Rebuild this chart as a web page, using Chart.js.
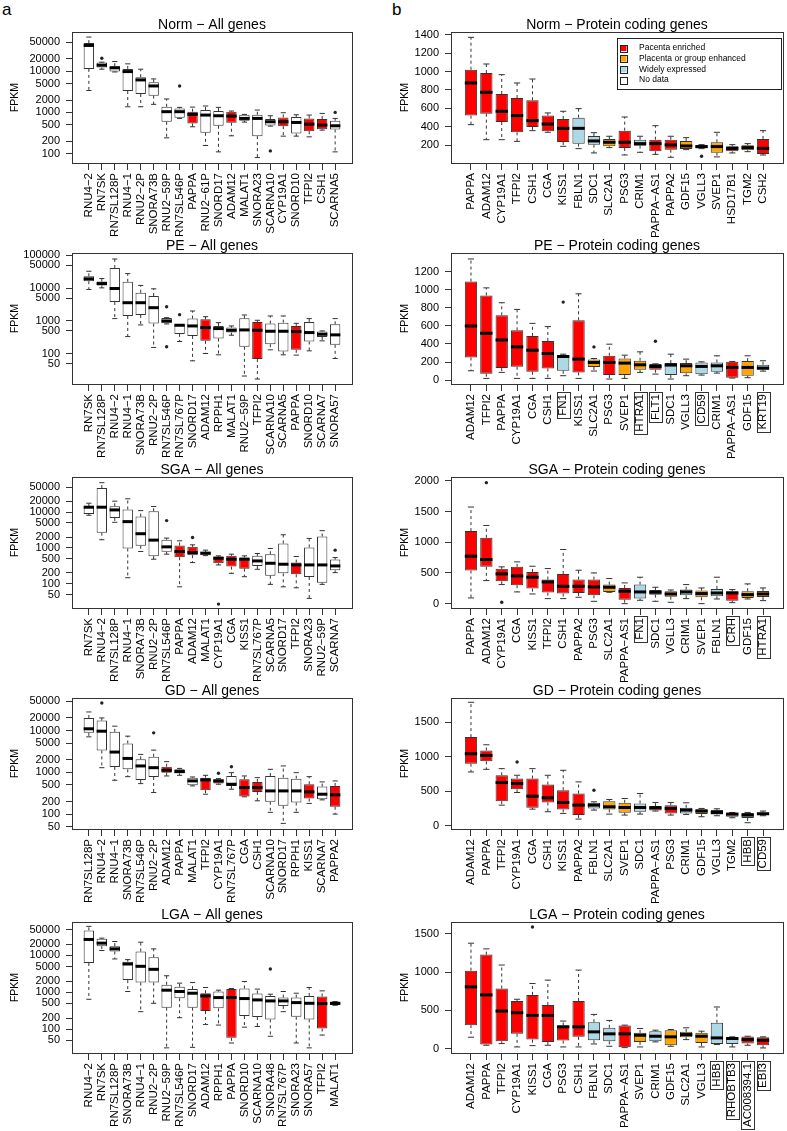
<!DOCTYPE html>
<html>
<head>
<meta charset="utf-8">
<script src="https://cdn.jsdelivr.net/npm/chart.js@4.4.0/dist/chart.umd.min.js"></script>
<style>
  body { margin: 0; background: #fff; }
  #fig { position: relative; width: 787px; height: 1131px; overflow: hidden; background: #fff; }
  #fig canvas { position: absolute; }
  .lab { position: absolute; font-family: 'Liberation Sans', Arial, sans-serif; font-size: 17px; line-height: 17px; }
</style>
</head>
<body>
<div id="fig">
  <div class="lab" style="left:2px;top:1px">a</div>
  <div class="lab" style="left:392px;top:1px">b</div>
</div>
<script>
// box stats are [lower whisker, Q1, median, Q3, upper whisker]
// classes: PE placenta enriched, GE group enhanced, WE widely expressed, ND no data

const legendLabels = ['Pacenta enriched', 'Placenta or group enhanced', 'Widely expressed', 'No data'];
const legendClasses = ['PE', 'GE', 'WE', 'ND'];

const logTicks = [50, 100, 200, 500, 1000, 2000, 5000, 10000, 20000, 50000];

// Norm
const normAllGenes = ['RNU4-2','RN7SK','RN7SL128P','RNU4-1','RNU2-2P','SNORA73B','RNU2-59P','RN7SL546P','PAPPA','RNU2-61P','SNORD17','ADAM12','MALAT1','SNORA23','SCARNA10','CYP19A1','SNORD10','TFPI2','CSH1','SCARNA5'];
const normAllClass = ['ND','ND','ND','ND','ND','ND','ND','ND','PE','ND','ND','PE','ND','ND','ND','PE','ND','PE','PE','ND'];
const normAllStats = [
  [3400, 11400, 42300, 48200, 67500], [11200, 12300, 14000, 16300, 16600], [9600, 9800, 12100, 13200, 17200],
  [1370, 3300, 9800, 11400, 15100], [1370, 2800, 6150, 7140, 11200], [1570, 2550, 4390, 5390, 6500],
  [241, 592, 1040, 1370, 2120], [714, 741, 1040, 1250, 1325], [447, 539, 894, 1040, 1345],
  [157, 319, 861, 1140, 1430], [110, 473, 829, 1080, 1325], [270, 560, 814, 1040, 1080],
  [581, 626, 714, 877, 894], [80, 265, 714, 877, 1140], [464, 482, 592, 688, 829],
  [265, 464, 592, 755, 981], [265, 307, 570, 769, 877], [255, 350, 519, 714, 861],
  [371, 392, 491, 688, 945], [110, 385, 473, 626, 714]
];
const normAllOutliers = [['RN7SK', 20700], ['RN7SL546P', 4390], ['SCARNA10', 116], ['SCARNA5', 1000]];
const normAllTicks = [100, 200, 500, 1000, 2000, 5000, 10000, 20000, 50000];

const normProtGenes = ['PAPPA','ADAM12','CYP19A1','TFPI2','CSH1','CGA','KISS1','FBLN1','SDC1','SLC2A1','PSG3','CRIM1','PAPPA-AS1','PAPPA2','GDF15','VGLL3','SVEP1','HSD17B1','TGM2','CSH2'];
const normProtClass = ['PE','PE','PE','PE','PE','PE','PE','WE','WE','GE','PE','WE','PE','PE','GE','GE','GE','PE','GE','PE'];
const normProtStats = [
  [424, 522, 876, 1020, 1371], [261, 543, 775, 984, 1082], [261, 453, 569, 757, 966],
  [243, 341, 522, 713, 876], [359, 399, 467, 688, 919], [341, 352, 431, 522, 551],
  [189, 236, 384, 486, 569], [164, 218, 384, 500, 598], [117, 207, 247, 301, 337],
  [175, 189, 233, 269, 298], [95, 171, 233, 359, 507], [124, 196, 218, 261, 298],
  [102, 135, 218, 261, 413], [70, 153, 204, 261, 298], [153, 160, 193, 247, 283],
  [164, 167, 186, 200, 207], [74, 120, 186, 233, 341], [117, 135, 167, 189, 207],
  [131, 146, 175, 200, 218], [95, 106, 167, 269, 359]
];
const normProtOutliers = [['VGLL3', 81]];
const normProtTicks = [200, 400, 600, 800, 1000, 1200, 1400];

// PE
const peAllGenes = ['RN7SK','RN7SL128P','RNU4-2','RNU4-1','SNORA73B','RNU2-2P','RN7SL546P','RN7SL767P','SNORD17','ADAM12','RPPH1','MALAT1','RNU2-59P','TFPI2','SCARNA10','SCARNA5','PAPPA','SNORD10','SCARNA7','SNORA57'];
const peAllClass = ['ND','ND','ND','ND','ND','ND','ND','ND','ND','PE','ND','ND','ND','PE','ND','ND','PE','ND','ND','ND'];
const peAllStats = [
  [9120, 16300, 19200, 23100, 32700], [10200, 12000, 13800, 15900, 19600], [1180, 3770, 9770, 41300, 77400],
  [335, 1420, 3600, 15600, 27800], [756, 1520, 3600, 7230, 12100], [156, 830, 2540, 5730, 9550],
  [811, 849, 1000, 1230, 1260], [237, 404, 740, 774, 780], [61, 351, 705, 1180, 2010],
  [102, 248, 628, 1120, 1350], [93, 292, 586, 705, 889], [368, 443, 521, 628, 705],
  [21, 163, 533, 1205, 1520], [17, 69, 521, 933, 1050], [132, 196, 486, 830, 1420],
  [93, 118, 486, 889, 1420], [91, 132, 475, 705, 849], [123, 237, 443, 933, 1180],
  [248, 327, 394, 475, 498], [72, 187, 377, 793, 1180]
];
const peAllOutliers = [['RN7SL546P', 2720], ['RN7SL546P', 163], ['RN7SL767P', 1556]];
const peAllTicks = [50, 100, 500, 1000, 5000, 10000, 50000, 100000];

const peProtGenes = ['ADAM12','TFPI2','PAPPA','CYP19A1','CGA','CSH1','FN1','KISS1','SLC2A1','PSG3','SVEP1','HTRA1','FLT1','SDC1','VGLL3','CD59','CRIM1','PAPPA-AS1','GDF15','KRT19'];
const peProtClass = ['PE','PE','PE','PE','PE','PE','WE','PE','GE','PE','GE','GE','PE','WE','GE','WE','WE','PE','GE','WE'];
const peProtBoxed = ['FN1', 'HTRA1', 'FLT1', 'CD59', 'KRT19'];
const peProtStats = [
  [103, 250, 600, 1093, 1344], [18, 70, 519, 939, 1023], [85, 133, 445, 718, 858],
  [18, 147, 368, 552, 784], [18, 92, 331, 490, 629], [18, 129, 294, 434, 593],
  [48, 103, 261, 276, 287], [18, 85, 232, 663, 957], [100, 145, 195, 228, 239],
  [11, 55, 195, 269, 398], [18, 55, 188, 239, 276], [85, 114, 169, 214, 313],
  [66, 114, 151, 177, 180], [11, 55, 166, 188, 287], [48, 74, 158, 188, 232],
  [55, 63, 151, 195, 202], [77, 92, 158, 195, 269], [22, 26, 140, 202, 206],
  [26, 48, 140, 210, 269], [99, 114, 133, 169, 214]
];
const peProtOutliers = [['FN1', 865], ['SLC2A1', 368], ['FLT1', 431]];
const peProtTicks = [0, 200, 400, 600, 800, 1000, 1200];

// SGA
const sgaAllGenes = ['RN7SK','RNU4-2','RN7SL128P','RNU4-1','SNORA73B','RNU2-2P','RN7SL546P','PAPPA','ADAM12','MALAT1','CYP19A1','CGA','KISS1','RN7SL767P','SCARNA5','SNORD17','TFPI2','SNORA23','RNU2-59P','SCARNA7'];
const sgaAllClass = ['ND','ND','ND','ND','ND','ND','ND','PE','PE','ND','PE','PE','PE','ND','ND','ND','PE','ND','ND','ND'];
const sgaAllStats = [
  [8160, 8890, 13700, 14300, 17700], [1690, 2660, 13700, 46900, 66200], [5190, 6870, 11500, 14600, 20200],
  [147, 964, 5420, 11800, 23500], [794, 1150, 2490, 7480, 11000], [483, 587, 1650, 10600, 14300],
  [668, 776, 1070, 1690, 1880], [82, 550, 794, 1170, 1580], [389, 627, 745, 1070, 1220],
  [610, 627, 713, 776, 865], [335, 373, 515, 575, 600], [195, 301, 483, 600, 668],
  [157, 264, 483, 538, 600], [253, 314, 433, 600, 697], [96, 168, 373, 668, 964],
  [82, 195, 350, 1330, 2330], [77, 183, 335, 389, 575], [39, 154, 335, 1030, 1840],
  [96, 107, 335, 2090, 3030], [204, 237, 314, 473, 538]
];
const sgaAllOutliers = [['RN7SL546P', 5780], ['ADAM12', 1960], ['CYP19A1', 27], ['SCARNA7', 865]];

const sgaProtGenes = ['PAPPA','ADAM12','CYP19A1','CGA','KISS1','TFPI2','CSH1','PAPPA2','PSG3','SLC2A1','PAPPA-AS1','FN1','SDC1','VGLL3','CRIM1','SVEP1','FBLN1','CRH','GDF15','HTRA1'];
const sgaProtClass = ['PE','PE','PE','PE','PE','PE','PE','PE','PE','GE','PE','WE','WE','GE','WE','GE','WE','PE','GE','GE'];
const sgaProtBoxed = ['FN1', 'CRH', 'HTRA1'];
const sgaProtStats = [
  [93, 540, 774, 1183, 1575], [376, 600, 719, 1074, 1275], [311, 365, 485, 567, 600],
  [191, 300, 452, 600, 681], [158, 245, 431, 518, 610], [82, 180, 354, 392, 572],
  [82, 164, 283, 485, 883], [104, 174, 283, 392, 545], [38, 136, 273, 392, 501],
  [185, 191, 267, 311, 409], [0, 65, 202, 256, 338], [55, 82, 191, 311, 431],
  [38, 147, 185, 223, 267], [22, 114, 158, 202, 223], [82, 136, 191, 229, 311],
  [0, 104, 164, 213, 256], [76, 120, 174, 240, 431], [16, 49, 174, 202, 229],
  [76, 93, 147, 202, 322], [49, 109, 158, 207, 256]
];
const sgaProtOutliers = [['ADAM12', 1973], ['CYP19A1', 22]];
const sgaProtTicks = [0, 500, 1000, 1500, 2000];

// GD
const gdAllGenes = ['RN7SL128P','RNU4-2','RNU4-1','SNORA73B','RN7SL546P','RNU2-2P','ADAM12','PAPPA','MALAT1','TFPI2','CYP19A1','RN7SL767P','CGA','CSH1','SCARNA10','SNORD17','RPPH1','KISS1','SCARNA7','PAPPA2'];
const gdAllClass = ['ND','ND','ND','ND','ND','ND','PE','PE','ND','PE','PE','ND','PE','PE','ND','ND','ND','PE','ND','PE'];
const gdAllStats = [
  [7060, 8790, 11000, 20000, 27800], [1290, 3340, 9640, 17300, 20000], [645, 1340, 3050, 9300, 12700],
  [788, 1180, 2150, 4900, 7330], [537, 657, 1420, 2040, 2680], [328, 774, 1290, 2360, 3400],
  [818, 981, 1120, 1360, 1800], [848, 946, 1040, 1180, 1240], [473, 490, 622, 746, 774],
  [299, 373, 657, 746, 848], [518, 537, 622, 681, 706], [394, 473, 518, 818, 981],
  [259, 264, 431, 681, 818], [208, 340, 431, 589, 746], [110, 197, 359, 818, 1180],
  [60, 158, 359, 746, 1420], [110, 190, 359, 706, 981], [180, 236, 340, 518, 788],
  [219, 228, 299, 456, 589], [100, 150, 289, 473, 622]
];
const gdAllOutliers = [['RNU4-2', 45600], ['RNU2-2P', 8790], ['CYP19A1', 946], ['RN7SL767P', 1360]];

const gdProtGenes = ['ADAM12','PAPPA','TFPI2','CYP19A1','CGA','CSH1','KISS1','PAPPA2','FBLN1','SLC2A1','SVEP1','SDC1','PAPPA-AS1','PSG3','CRIM1','GDF15','VGLL3','TGM2','HBB','CD59'];
const gdProtClass = ['PE','PE','PE','PE','PE','PE','PE','PE','WE','GE','GE','WE','PE','PE','WE','GE','GE','GE','WE','WE'];
const gdProtBoxed = ['HBB', 'CD59'];
const gdProtStats = [
  [779, 899, 1043, 1284, 1789], [817, 933, 1019, 1091, 1173], [298, 356, 625, 731, 827],
  [481, 529, 611, 683, 731], [240, 260, 428, 683, 827], [202, 337, 404, 596, 731],
  [178, 236, 337, 514, 803], [96, 154, 298, 466, 635], [226, 250, 298, 332, 346],
  [168, 236, 274, 356, 380], [154, 188, 264, 332, 394], [168, 202, 264, 322, 466],
  [212, 221, 260, 284, 337], [154, 178, 250, 298, 337], [163, 178, 226, 260, 332],
  [130, 168, 212, 240, 250], [144, 163, 192, 226, 245], [115, 130, 168, 188, 192],
  [43, 111, 154, 183, 192], [144, 154, 173, 188, 212]
];
const gdProtOutliers = [['CYP19A1', 923], ['FBLN1', 514]];
const gdProtTicks = [0, 500, 1000, 1500];

// LGA
const lgaAllGenes = ['RNU4-2','RN7SK','RN7SL128P','SNORA73B','RNU4-1','RNU2-2P','RNU2-59P','RN7SL546P','SNORD17','ADAM12','RPPH1','PAPPA','SNORD10','SCARNA10','SNORA48','RN7SL767P','SNORA23','SNORA57','TFPI2','MALAT1'];
const lgaAllClass = ['ND','ND','ND','ND','ND','ND','ND','ND','ND','PE','ND','PE','ND','ND','ND','ND','ND','ND','PE','ND'];
const lgaAllStats = [
  [647, 6250, 27200, 47900, 61500], [13600, 17900, 21600, 28300, 29500], [8040, 12800, 15100, 17900, 23900],
  [1050, 2140, 5860, 6790, 7710], [298, 1850, 5070, 12800, 22900], [503, 1850, 4200, 8930, 15100],
  [31, 383, 1140, 1600, 2810], [204, 690, 1050, 1410, 1770], [32, 383, 944, 1220, 1850],
  [134, 310, 798, 944, 1350], [129, 367, 719, 1050, 1140], [42, 58, 719, 1220, 1270],
  [113, 227, 676, 1270, 1970], [118, 213, 621, 925, 1220], [64, 184, 583, 798, 887],
  [298, 425, 583, 719, 1050], [42, 217, 525, 719, 944], [31, 184, 503, 798, 1350],
  [69, 104, 493, 766, 1094], [443, 453, 503, 547, 559]
];
const lgaAllOutliers = [['SNORA48', 4290]];

const lgaProtGenes = ['ADAM12','PAPPA','TFPI2','CYP19A1','KISS1','CGA','PSG3','CSH1','FBLN1','SDC1','PAPPA-AS1','SVEP1','CRIM1','GDF15','SLC2A1','VGLL3','HBB','RHOBTB3','AC008394.1','EBI3'];
const lgaProtClass = ['PE','PE','PE','PE','PE','PE','PE','PE','WE','WE','PE','GE','WE','GE','GE','GE','WE','WE','PE','PE'];
const lgaProtBoxed = ['HBB', 'RHOBTB3', 'AC008394.1', 'EBI3'];
const lgaProtStats = [
  [149, 307, 807, 1018, 1377], [44, 53, 702, 1228, 1303], [66, 96, 491, 785, 1092],
  [22, 193, 469, 623, 645], [39, 118, 434, 702, 851], [44, 88, 434, 570, 895],
  [22, 105, 285, 303, 360], [22, 154, 285, 623, 1026], [61, 110, 219, 346, 447],
  [31, 96, 193, 272, 368], [13, 18, 193, 303, 307], [22, 88, 175, 206, 263],
  [88, 96, 162, 228, 241], [31, 44, 154, 241, 250], [118, 149, 184, 219, 272],
  [22, 75, 162, 206, 228], [53, 61, 140, 338, 544], [22, 61, 132, 149, 154],
  [44, 66, 118, 158, 162], [9, 44, 110, 149, 154]
];
const lgaProtOutliers = [['KISS1', 1588]];
const lgaProtTicks = [0, 500, 1000, 1500];

const FILL = { PE: '#ff0000', GE: '#ffa500', WE: '#add8e6', ND: '#ffffff' };
const FONT = "'Liberation Sans', Arial, Helvetica, sans-serif";
const TICK_SIZE = 11.5;
Chart.defaults.font.family = FONT;
Chart.defaults.color = '#000';

const rowTops = [0, 221, 445, 666, 890];
const CANVAS_H = 241;

const panels = [
  { title: 'Norm \u2212 All genes', genes: normAllGenes, cls: normAllClass, stats: normAllStats, out: normAllOutliers, ticks: normAllTicks, log: true, range: [59, 89700], row: 0, col: 0 },
  { title: 'Norm \u2212 Protein coding genes', genes: normProtGenes, cls: normProtClass, stats: normProtStats, out: normProtOutliers, ticks: normProtTicks, log: false, range: [8, 1429], row: 0, col: 1, legend: true },
  { title: 'PE \u2212 All genes', genes: peAllGenes, cls: peAllClass, stats: peAllStats, out: peAllOutliers, ticks: peAllTicks, log: true, range: [12, 117800], row: 1, col: 0 },
  { title: 'PE \u2212 Protein coding genes', genes: peProtGenes, cls: peProtClass, stats: peProtStats, out: peProtOutliers, ticks: peProtTicks, log: false, range: [-44, 1410], row: 1, col: 1, boxed: peProtBoxed },
  { title: 'SGA \u2212 All genes', genes: sgaAllGenes, cls: sgaAllClass, stats: sgaAllStats, out: sgaAllOutliers, ticks: logTicks, log: true, range: [21, 95500], row: 2, col: 0 },
  { title: 'SGA \u2212 Protein coding genes', genes: sgaProtGenes, cls: sgaProtClass, stats: sgaProtStats, out: sgaProtOutliers, ticks: sgaProtTicks, log: false, range: [-71, 2065], row: 2, col: 1, boxed: sgaProtBoxed },
  { title: 'GD \u2212 All genes', genes: gdAllGenes, cls: gdAllClass, stats: gdAllStats, out: gdAllOutliers, ticks: logTicks, log: true, range: [44, 60000], row: 3, col: 0 },
  { title: 'GD \u2212 Protein coding genes', genes: gdProtGenes, cls: gdProtClass, stats: gdProtStats, out: gdProtOutliers, ticks: gdProtTicks, log: false, range: [-48, 1851], row: 3, col: 1, boxed: gdProtBoxed },
  { title: 'LGA \u2212 All genes', genes: lgaAllGenes, cls: lgaAllClass, stats: lgaAllStats, out: lgaAllOutliers, ticks: logTicks, log: true, range: [22.5, 80900], row: 4, col: 0 },
  { title: 'LGA \u2212 Protein coding genes', genes: lgaProtGenes, cls: lgaProtClass, stats: lgaProtStats, out: lgaProtOutliers, ticks: lgaProtTicks, log: false, range: [-57, 1654], row: 4, col: 1, boxed: lgaProtBoxed }
];

const dispName = g => g.replace(/-/g, '\u2212');

// whiskers, medians, frame, boxed labels and legend
const boxPlot = {
  id: 'boxPlot',
  afterDatasetsDraw(chart) {
    const ds = chart.data.datasets[0];
    const meta = chart.getDatasetMeta(0);
    const y = chart.scales.y;
    const ctx = chart.ctx;
    ctx.save();
    meta.data.forEach((bar, i) => {
      const [lo, q1, med, q3, hi] = ds.stats[i];
      const half = bar.width / 2;
      ctx.strokeStyle = '#333';
      ctx.lineWidth = 1;
      ctx.setLineDash([3, 3]);
      ctx.beginPath();
      ctx.moveTo(bar.x, y.getPixelForValue(q3));
      ctx.lineTo(bar.x, y.getPixelForValue(hi));
      ctx.moveTo(bar.x, y.getPixelForValue(q1));
      ctx.lineTo(bar.x, y.getPixelForValue(lo));
      ctx.stroke();
      ctx.setLineDash([]);
      ctx.beginPath();
      [lo, hi].forEach(v => {
        const py = y.getPixelForValue(v);
        ctx.moveTo(bar.x - half / 2, py);
        ctx.lineTo(bar.x + half / 2, py);
      });
      ctx.stroke();
      ctx.strokeStyle = '#000';
      ctx.lineWidth = 3;
      ctx.beginPath();
      const pm = y.getPixelForValue(med);
      ctx.moveTo(bar.x - half, pm);
      ctx.lineTo(bar.x + half, pm);
      ctx.stroke();
    });
    ctx.restore();
  },
  afterDraw(chart, args, opts) {
    const ctx = chart.ctx;
    const a = chart.chartArea;
    ctx.save();
    ctx.strokeStyle = '#333';
    ctx.lineWidth = 1;
    ctx.strokeRect(Math.round(a.left) + 0.5, Math.round(a.top) + 0.5, Math.round(a.right - a.left), Math.round(a.bottom - a.top));

    if (opts.boxed) {
      const xs = chart.scales.x;
      ctx.font = TICK_SIZE + 'px ' + FONT;
      opts.boxed.forEach(g => {
        const i = opts.genes.indexOf(g);
        const px = xs.getPixelForValue(i);
        const w = ctx.measureText(dispName(g)).width;
        const start = a.bottom + 10;
        ctx.strokeRect(Math.round(px - 6.5) + 0.5, Math.round(start - 2) + 0.5, 13, Math.round(w + 4));
      });
    }

    if (opts.legend) {
      const bx = a.right - 166, by = a.top + 6, bw = 164, bh = 51;
      ctx.fillStyle = '#fff';
      ctx.fillRect(bx, by, bw, bh);
      ctx.strokeStyle = '#222';
      ctx.strokeRect(Math.round(bx) + 0.5, Math.round(by) + 0.5, bw, bh);
      ctx.font = '8.5px ' + FONT;
      ctx.textBaseline = 'middle';
      legendLabels.forEach((t, k) => {
        const cy = by + 10 + k * 10.7;
        ctx.fillStyle = FILL[legendClasses[k]];
        ctx.fillRect(bx + 3.5, cy - 3, 6, 6);
        ctx.strokeStyle = '#222';
        ctx.strokeRect(Math.round(bx + 3) + 0.5, Math.round(cy - 3.5) + 0.5, 7, 7);
        ctx.fillStyle = '#000';
        ctx.fillText(t, bx + 22, cy);
      });
    }
    ctx.restore();
  }
};

const fig = document.getElementById('fig');

panels.forEach(p => {
  const n = p.genes.length;
  const width = p.col ? 397 : 390;
  const chartLeft = p.col ? 61 : 72;
  const padRight = p.col ? 3 : 38;
  const canvas = document.createElement('canvas');
  canvas.width = width;
  canvas.height = CANVAS_H;
  canvas.style.left = (p.col ? 390 : 0) + 'px';
  canvas.style.top = rowTops[p.row] + 'px';
  fig.appendChild(canvas);

  new Chart(canvas, {
    type: 'bar',
    data: {
      datasets: [
        {
          type: 'bar',
          data: p.stats.map((s, i) => ({ x: i, y: [s[1], s[3]] })),
          stats: p.stats,
          backgroundColor: p.cls.map(c => FILL[c]),
          borderColor: '#333',
          borderWidth: 1,
          borderSkipped: false,
          barPercentage: 0.8,
          categoryPercentage: 1
        },
        {
          type: 'line',
          showLine: false,
          data: p.out.map(([g, v]) => ({ x: p.genes.indexOf(g), y: v })),
          pointRadius: 1.7,
          pointBackgroundColor: '#222',
          pointBorderWidth: 0
        }
      ]
    },
    options: {
      responsive: false,
      animation: false,
      devicePixelRatio: 1,
      layout: { padding: { left: 0, right: padRight, top: 0, bottom: 0 } },
      plugins: {
        legend: { display: false },
        tooltip: { enabled: false },
        title: {
          display: true,
          text: p.title,
          fullSize: false,
          color: '#000',
          font: { size: 14, weight: 'normal', lineHeight: 1 },
          padding: { top: 18, bottom: 0 }
        },
        boxPlot: { boxed: p.boxed, legend: p.legend, genes: p.genes }
      },
      scales: {
        x: {
          type: 'linear',
          offset: false,
          min: -0.5 - 0.04 * n,
          max: n - 0.5 + 0.04 * n,
          afterBuildTicks: s => { s.ticks = p.genes.map((g, i) => ({ value: i })); },
          afterFit: s => { s.height = CANVAS_H - 163; s.paddingLeft = 0; s.paddingRight = 0; },
          grid: { drawOnChartArea: false, offset: false, tickLength: 7, color: '#333' },
          border: { display: false },
          ticks: {
            autoSkip: false, minRotation: 90, maxRotation: 90, padding: 3,
            font: { size: TICK_SIZE },
            callback: v => dispName(p.genes[v])
          }
        },
        y: {
          type: p.log ? 'logarithmic' : 'linear',
          min: p.range[0],
          max: p.range[1],
          afterBuildTicks: s => { s.ticks = p.ticks.map(v => ({ value: v })); },
          afterFit: s => { s.width = chartLeft; s.paddingTop = 0; s.paddingBottom = 0; },
          grid: { drawOnChartArea: false, tickLength: 6, color: '#333' },
          border: { display: false },
          ticks: { autoSkip: false, padding: 6, font: { size: 11 }, callback: v => String(v) },
          title: { display: true, text: 'FPKM', font: { size: 10.5 }, padding: { top: 9, bottom: 0 } }
        }
      }
    },
    plugins: [boxPlot]
  });
});
</script>
</body>
</html>
